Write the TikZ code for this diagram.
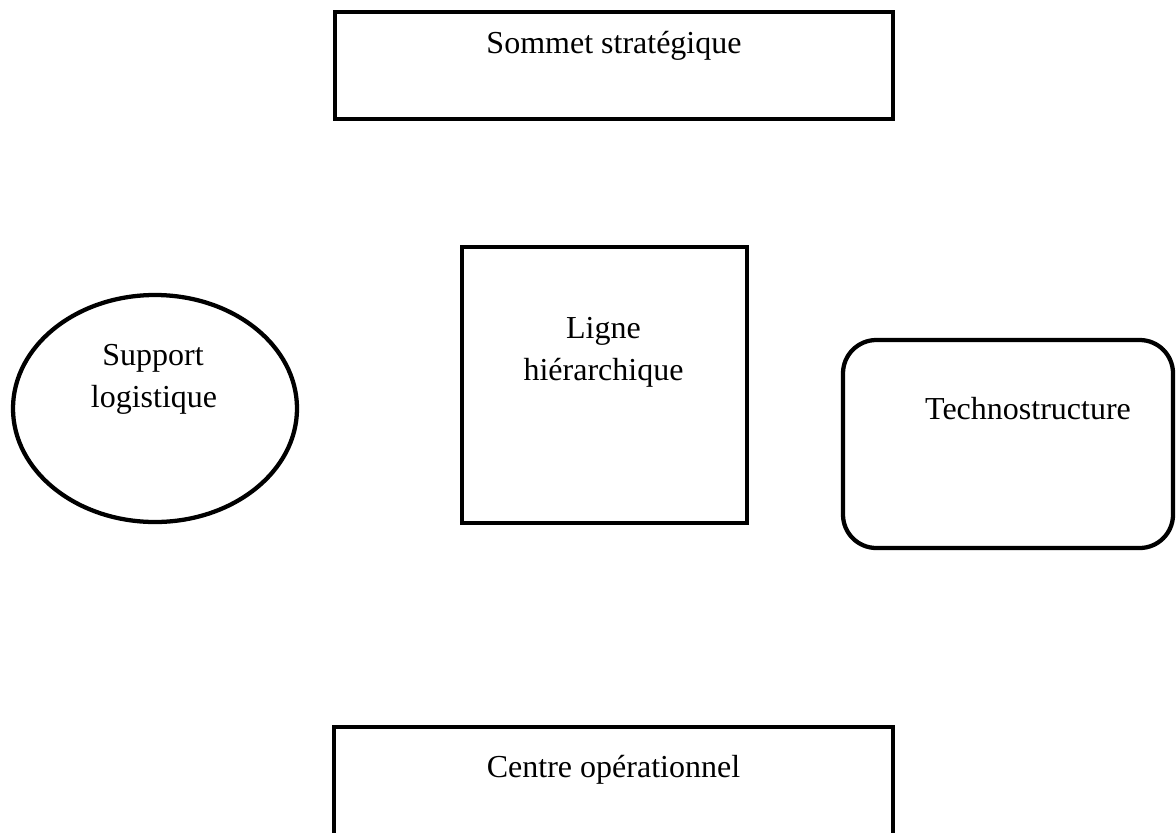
\documentclass[tikz,border=0pt]{standalone}
\usepackage{fontspec}
\setmainfont{Liberation Serif}
\usetikzlibrary{shapes.geometric}

\tikzset{
  part/.style={draw=black, line width=3.2pt, inner sep=0pt, outer sep=0pt, fill=white},
  boxpart/.style={part, rectangle},
  softpart/.style={part, rectangle, rounded corners=25pt},
  ovalpart/.style={part, ellipse},
  lbl/.style={inner sep=0pt, anchor=base, font=\fontsize{24}{30}\selectfont}
}

\begin{document}
\begin{tikzpicture}[x=0.75pt, y=-0.75pt]
  \useasboundingbox (0,0) rectangle (1176,832);

  % the five parts of the organisation
  \node[boxpart, minimum width=418.5pt, minimum height=80.25pt] (sommet) at (614,65.5) {};
  \node[boxpart, minimum width=213.75pt, minimum height=207pt] (ligne) at (604.5,385) {};
  \node[ovalpart, minimum width=213pt, minimum height=170.25pt] (support) at (155,408.5) {};
  \node[softpart, minimum width=247.5pt, minimum height=156pt] (techno) at (1008,444) {};
  \node[boxpart, minimum width=419.25pt, minimum height=99.75pt] (centre) at (613.5,793.5) {};

  % labels
  \node[lbl] (tsommet) at (614,53) {Sommet stratégique};
  \node[lbl] (tligneA) at (603.5,338) {Ligne};
  \node[lbl] (tligneB) at (603.5,380) {hiérarchique};
  \node[lbl] (tsupportA) at (153,365) {Support};
  \node[lbl] (tsupportB) at (154,407) {logistique};
  \node[lbl] (ttechno) at (1028,419) {Technostructure};
  \node[lbl] (tcentre) at (613.5,777) {Centre opérationnel};
\end{tikzpicture}
\end{document}
